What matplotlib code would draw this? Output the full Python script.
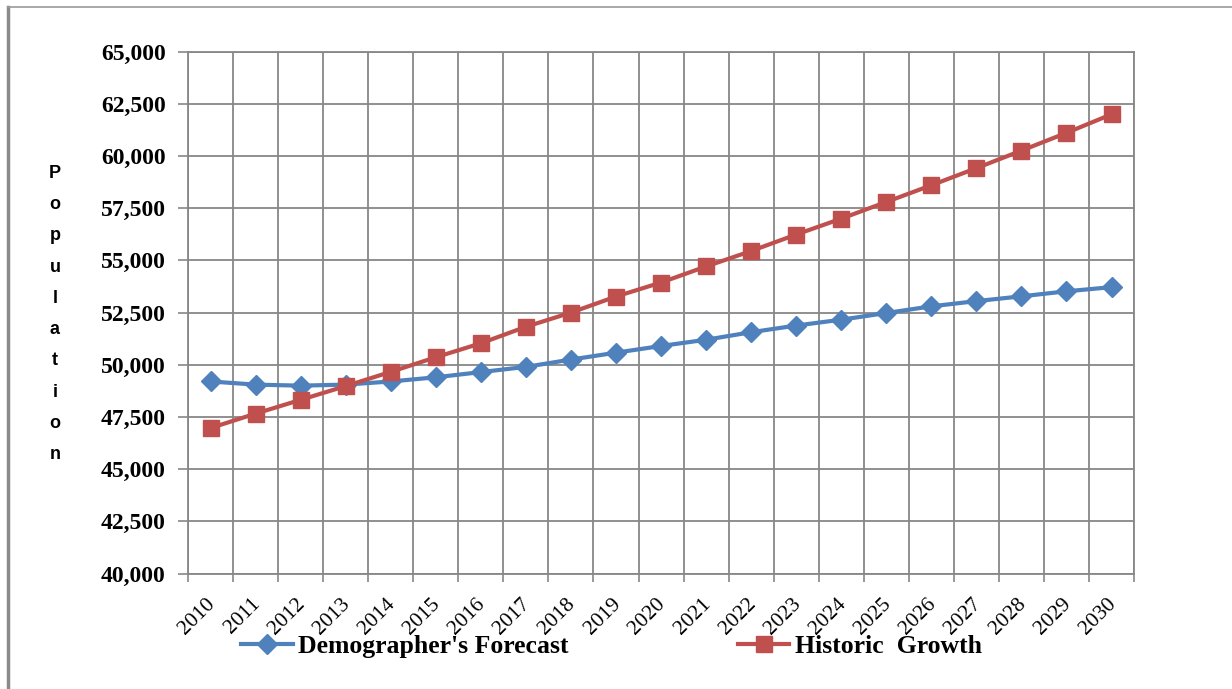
import numpy as np
import matplotlib
matplotlib.use("Agg")
import matplotlib.pyplot as plt
from matplotlib.lines import Line2D
from matplotlib.ticker import FuncFormatter, MultipleLocator

# --- data ---
years = [str(y) for y in range(2010, 2031)]
forecast = [49200, 49050, 49000, 49050, 49200, 49400, 49650, 49900, 50250, 50580,
            50900, 51200, 51560, 51880, 52160, 52480, 52800, 53050, 53280, 53520, 53720]
historic = [46970, 47660, 48320, 48980, 49660, 50360, 51030, 51820, 52500, 53270,
            53940, 54710, 55450, 56240, 57000, 57800, 58600, 59420, 60260, 61110, 62000]

blue = '#4F81BD'
red = '#C0504D'
grid_c = '#878787'
serif = 'Liberation Serif'

fig = plt.figure(figsize=(12.32, 6.89), dpi=100)
ax = fig.add_axes([0.1526, 0.1676, 0.9205 - 0.1526, 0.925 - 0.1676])

x = np.arange(len(years))
ax.plot(x, forecast, color=blue, lw=3, marker='D', ms=10, label="Demographer's Forecast")
ax.plot(x, historic, color=red, lw=3, marker='s', ms=12, label='Historic  Growth')

ax.set_xlim(-0.5, len(years) - 0.5)
ax.set_ylim(40000, 65000)
ax.yaxis.set_major_locator(MultipleLocator(2500))
ax.yaxis.set_major_formatter(FuncFormatter(lambda v, p: f'{v:,.0f}'))

# category labels (nudged a touch left of centre, like the original), tick marks
# and gridlines at the category boundaries
ax.set_xticks(x - 0.11)
ax.set_xticklabels(years, rotation=45, ha='right', rotation_mode='anchor',
                   fontfamily=serif, fontsize=15.5)
ax.set_xticks(np.arange(-0.5, len(years)), minor=True)
ax.tick_params(axis='x', which='major', length=0, pad=15)
ax.tick_params(axis='x', which='minor', length=6, width=1.2, color=grid_c)
ax.tick_params(axis='y', length=7, width=1.2, color=grid_c, pad=9)
for lab in ax.get_yticklabels():
    lab.set_fontfamily(serif)
    lab.set_fontweight('bold')
    lab.set_fontsize(17)

ax.grid(True, which='minor', axis='x', color=grid_c, lw=1.3)
ax.grid(True, which='major', axis='y', color=grid_c, lw=1.3)
ax.set_axisbelow(True)
for s in ax.spines.values():
    s.set_color(grid_c)
    s.set_linewidth(1.3)

# stacked y-axis title
fig.text(55 / 1232, 1 - 314 / 689, '\n'.join('Population'), ha='center', va='center',
         fontfamily='Liberation Sans', fontweight='bold', fontsize=13, linespacing=2.1)

leg = fig.legend(loc='center', bbox_to_anchor=(0.4963, 0.062), ncol=2, frameon=False,
                 handlelength=2.0, columnspacing=6.6, handletextpad=0.2,
                 prop={'family': serif, 'weight': 'bold', 'size': 18.5})

# outer frame of the chart area
fig.add_artist(Line2D([8 / 1232, 8 / 1232], [0, 1 - 7 / 689], transform=fig.transFigure,
                      color='#8a8a8a', lw=2.5))
fig.add_artist(Line2D([8 / 1232, 1], [1 - 7 / 689, 1 - 7 / 689], transform=fig.transFigure,
                      color='#9a9a9a', lw=1.2))

fig.savefig('out.png', dpi=100)
